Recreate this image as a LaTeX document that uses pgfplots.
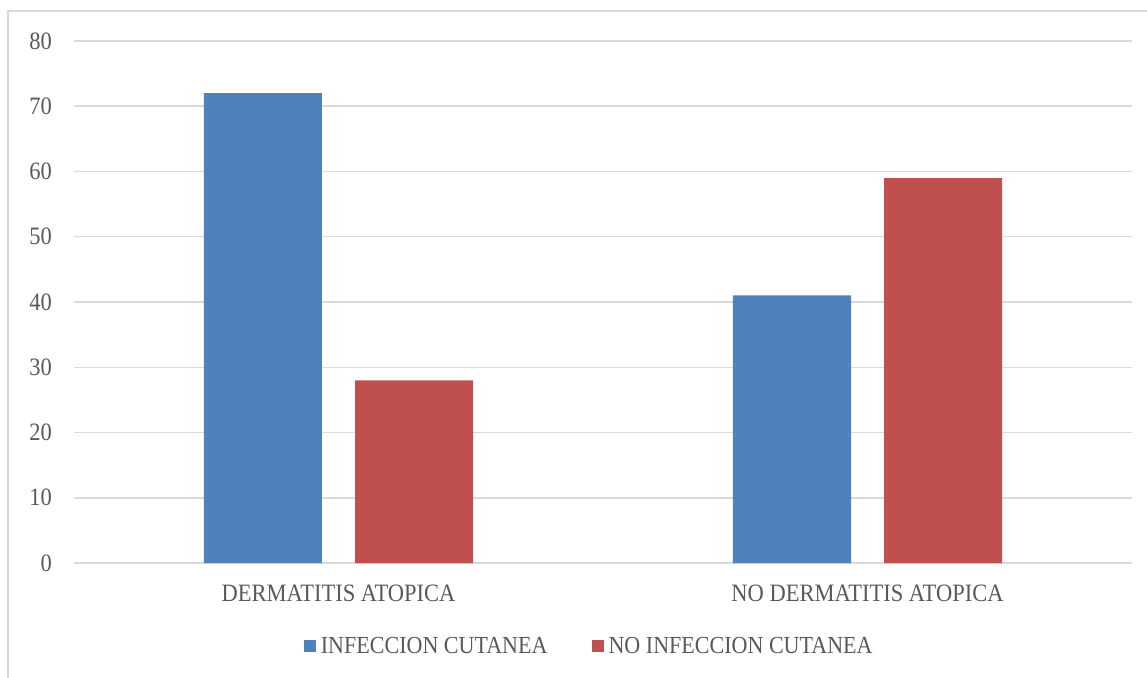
\documentclass[border=0pt]{standalone}
\usepackage{fontspec}
\setmainfont{Liberation Serif}[FakeStretch=0.9]
\usepackage{pgfplots}
\pgfplotsset{compat=1.18}
\definecolor{cblue}{HTML}{4F81BD}
\definecolor{cred}{HTML}{C0504D}
\definecolor{ctext}{HTML}{595959}
\definecolor{cgrid}{HTML}{D9D9D9}
\begin{document}
\begin{tikzpicture}
\useasboundingbox (-74pt,-114pt) rectangle (1073pt,563pt);
\draw[cgrid, line width=1.5pt] (-66pt,-120pt) -- (-66pt,552pt) -- (1080pt,552pt);
\begin{axis}[
  scale only axis,
  width=1058pt, height=522pt,
  ybar=33pt, bar width=118pt,
  xmin=-0.5, xmax=1.5, ymin=0, ymax=80,
  xtick=data,
  xticklabels={DERMATITIS ATOPICA, NO DERMATITIS ATOPICA},
  ytick={0,10,...,80},
  axis line style={draw=none},
  major tick length=0pt,
  ymajorgrids, major grid style={cgrid, line width=1.5pt},
  tick label style={font=\fontsize{25}{29}\selectfont, text=ctext, inner sep=0pt},
  x tick label style={anchor=center, yshift=-30pt},
  y tick label style={anchor=east, xshift=-22pt},
  /pgf/number format/assume math mode=true,
  legend columns=2,
  legend style={draw=none, at={(0.487,-0.159)}, anchor=center,
    font=\fontsize{24.5}{28}\selectfont, text=ctext,
    /tikz/every even column/.append style={column sep=42pt}},
  legend image code/.code={\fill[#1] (0pt,-6pt) rectangle (12pt,6pt); \path (15pt,0pt);},
]
\addplot[fill=cblue, draw=none] coordinates {(0,72) (1,41)};
\addplot[fill=cred, draw=none] coordinates {(0,28) (1,59)};
\legend{INFECCION CUTANEA, NO INFECCION CUTANEA}
\end{axis}
\end{tikzpicture}
\end{document}
